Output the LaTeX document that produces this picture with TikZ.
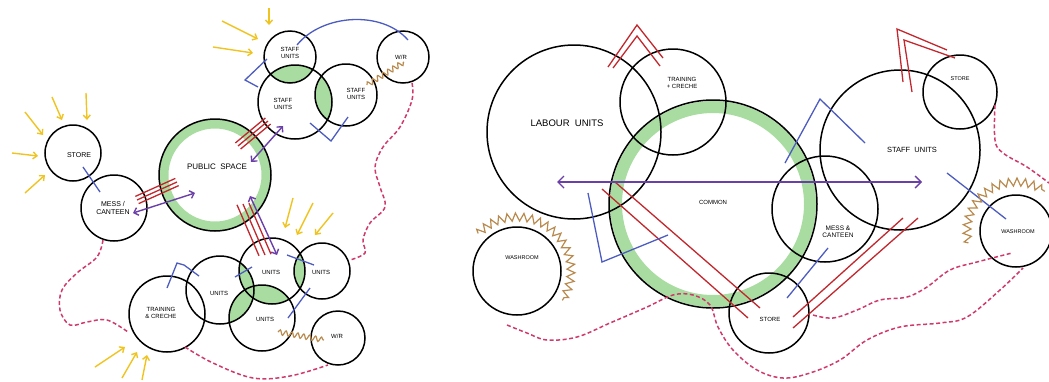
\documentclass[tikz,border=0pt]{standalone}
\usepackage{fontspec}
\setmainfont{Liberation Sans}
\usetikzlibrary{arrows.meta,decorations.pathmorphing,calc}
\definecolor{cYel}{HTML}{EFC320}
\definecolor{cRed}{HTML}{C1272D}
\definecolor{cPur}{HTML}{6B3FA8}
\definecolor{cBlu}{HTML}{4D5CC0}
\definecolor{cBrn}{HTML}{B98A4E}
\definecolor{cPnk}{HTML}{CF3A6C}
\definecolor{cGrn}{HTML}{A9DCA0}
\begin{document}
\begin{tikzpicture}[x=1pt,y=-1pt,
  bub/.style={circle,draw=black,line width=1.5pt,inner sep=0pt},
  lbl/.style={font=\fontsize{7}{7.5}\selectfont,align=center,inner sep=0pt},
  sun/.style={cYel,line width=1.4pt,-{Straight Barb[length=4pt,width=7pt]}},
  link/.style={cRed,line width=1.3pt},
  flow/.style={cPur,line width=1.4pt,{Straight Barb[length=4pt,width=8pt]}-{Straight Barb[length=4pt,width=8pt]}},
  bl/.style={cBlu,line width=1.3pt},
  walk/.style={cPnk,line width=1.5pt,dash pattern=on 4pt off 2.5pt},
  wavy/.style={cBrn,line width=1.2pt,decorate,decoration={snake,amplitude=2.5pt,segment length=6pt}},
  zig/.style={cBrn,line width=1.2pt,decorate,decoration={zigzag,amplitude=4pt,segment length=8pt}}]
\useasboundingbox (0,0) rectangle (1049,381);

% ---------- green fills (left) ----------
\begin{scope}\clip (290,57) circle[radius=26]; \fill[cGrn] (295,102) circle[radius=37];\end{scope}
\begin{scope}\clip (295,102) circle[radius=37]; \fill[cGrn] (346,95) circle[radius=31];\end{scope}
\begin{scope}\clip (220,290) circle[radius=34]; \fill[cGrn] (272,271) circle[radius=33];\end{scope}
\begin{scope}\clip (220,290) circle[radius=34]; \fill[cGrn] (262,318) circle[radius=33];\end{scope}
\begin{scope}\clip (272,271) circle[radius=33]; \fill[cGrn] (262,318) circle[radius=33];\end{scope}
\begin{scope}\clip (272,271) circle[radius=33]; \fill[cGrn] (322,271) circle[radius=28];\end{scope}
\draw[cGrn,line width=9pt] (215,175) circle[radius=51];
\draw[cGrn,line width=12pt] (713,204) circle[radius=97];

% ---------- left circles ----------
\node[bub,minimum size=56pt] (lStore) at (73,153) {};
\node[bub,minimum size=66pt] (lMess) at (114,208) {};
\node[bub,minimum size=112pt] (lPub) at (215,175) {};
\node[bub,minimum size=52pt] (lStaffA) at (290,57) {};
\node[bub,minimum size=74pt] (lStaffB) at (295,102) {};
\node[bub,minimum size=62pt] (lStaffC) at (346,95) {};
\node[bub,minimum size=52pt] (lWrA) at (403,57) {};
\node[bub,minimum size=76pt] (lTrain) at (167,314) {};
\node[bub,minimum size=68pt] (lUnA) at (220,290) {};
\node[bub,minimum size=66pt] (lUnB) at (272,271) {};
\node[bub,minimum size=56pt] (lUnC) at (322,271) {};
\node[bub,minimum size=66pt] (lUnD) at (262,318) {};
\node[bub,minimum size=54pt] (lWrB) at (338,338) {};

% ---------- right circles ----------
\node[bub,minimum size=174pt] (rLab) at (574,132) {};
\node[bub,minimum size=106pt] (rTrain) at (673,102) {};
\node[bub,minimum size=208pt] (rCom) at (713,204) {};
\node[bub,minimum size=88pt] (rWashA) at (517,271) {};
\node[bub,minimum size=80pt] (rStoreB) at (769,313) {};
\node[bub,minimum size=106pt] (rMess) at (825,209) {};
\node[bub,minimum size=160pt] (rStaff) at (900,150) {};
\node[bub,minimum size=74pt] (rStoreA) at (960,92) {};
\node[bub,minimum size=72pt] (rWashB) at (1016,231) {};

% ---------- labels ----------
\node[lbl] (tStore) at (79,155) {STORE};
\node[lbl] (tMess) at (113,208) {MESS /\\CANTEEN};
\node[lbl,font=\fontsize{8}{9}\selectfont] (tPub) at (217,167) {PUBLIC\ \ SPACE};
\node[lbl,font=\fontsize{6}{6.5}\selectfont] (tSA) at (290,53) {STAFF\\UNITS};
\node[lbl,font=\fontsize{6}{6.5}\selectfont] (tSB) at (283,104) {STAFF\\UNITS};
\node[lbl,font=\fontsize{6}{6.5}\selectfont] (tSC) at (356,94) {STAFF\\UNITS};
\node[lbl,font=\fontsize{6}{6.5}\selectfont] (tWA) at (401,57) {W/R};
\node[lbl,font=\fontsize{6}{6.5}\selectfont] (tTr) at (161,313) {TRAINING\\\& CRECHE};
\node[lbl,font=\fontsize{6}{6.5}\selectfont] (tUA) at (219,293) {UNITS};
\node[lbl,font=\fontsize{6}{6.5}\selectfont] (tUB) at (271,272) {UNITS};
\node[lbl,font=\fontsize{6}{6.5}\selectfont] (tUC) at (321,272) {UNITS};
\node[lbl,font=\fontsize{6}{6.5}\selectfont] (tUD) at (265,319) {UNITS};
\node[lbl,font=\fontsize{6}{6.5}\selectfont] (tWB) at (337,336) {W/R};

\node[lbl,font=\fontsize{9.5}{10}\selectfont] (tLab) at (567,123) {LABOUR\ \ UNITS};
\node[lbl,font=\fontsize{6}{6.5}\selectfont] (tTr2) at (682,83) {TRAINING\\+ CRECHE};
\node[lbl,font=\fontsize{6}{6.5}\selectfont] (tCom) at (713,202) {COMMON};
\node[lbl,font=\fontsize{5.5}{6}\selectfont] (tWa1) at (522,258) {WASHROOM};
\node[lbl,font=\fontsize{7.5}{8}\selectfont] (tSt) at (912,150) {STAFF\ \ UNITS};
\node[lbl,font=\fontsize{5.5}{6}\selectfont] (tSo1) at (960,79) {STORE};
\node[lbl,font=\fontsize{6.5}{7}\selectfont] (tMe2) at (838,232) {MESS \&\\CANTEEN};
\node[lbl,font=\fontsize{6}{6.5}\selectfont] (tSo2) at (770,319) {STORE};
\node[lbl,font=\fontsize{5.5}{6}\selectfont] (tWa2) at (1018,232) {WASHROOM};

% ---------- yellow arrows ----------
\draw[sun] (25,112) -- (43,135);
\draw[sun] (52,97) -- (62,120);
\draw[sun] (86,93) -- (87,120);
\draw[sun] (12,153) -- (38,156);
\draw[sun] (25,193) -- (45,175);
\draw[sun] (222,21) -- (258,39);
\draw[sun] (213,47) -- (253,53);
\draw[sun] (269,8) -- (269,25);
\draw[sun] (293,198) -- (285,228);
\draw[sun] (313,203) -- (297,235);
\draw[sun] (333,213) -- (315,235);
\draw[sun] (95,367) -- (125,347);
\draw[sun] (122,378) -- (137,352);
\draw[sun] (142,380) -- (147,355);

% ---------- red links (left) ----------
\foreach \d in {-4,0,4}{
  \draw[link] ($(137,200)+(0.42*\d,0.9*\d)$) -- ($(177,182)+(0.42*\d,0.9*\d)$);
  \draw[link] ($(238,146)+(0.65*\d,0.76*\d)$) -- ($(268,121)+(0.65*\d,0.76*\d)$);
  \draw[link] ($(243,204)+(1.5*\d,-0.2*\d)$) -- ($(265,255)+(1.5*\d,-0.2*\d)$);
}
% ---------- purple flows (left) ----------
\draw[flow] (133,213) -- (195,193);
\draw[flow] (251,162) -- (283,126);
\draw[flow] (250,196) -- (277,255);

% ---------- blue (left) ----------
\draw[bl] (83,167) -- (100,192);
\draw[bl] (267,59) -- (245,80) -- (258,87);
\draw[bl] (310,123) -- (331,141) -- (348,117);
\draw[bl] (297,45) .. controls (322,14) and (382,10) .. (408,40);
\draw[bl] (167,288) -- (177,263) -- (184,265) -- (199,276);
\draw[bl] (235,277) -- (252,267);
\draw[bl] (287,255) -- (314,265);
\draw[bl] (288,318) -- (310,288);

% ---------- brown (left) ----------
\draw[wavy] (367,85) -- (404,62);
\draw[wavy] (278,332) -- (324,340);

% ---------- pink (left) ----------
\draw[walk] plot[smooth,tension=0.6] coordinates {(412,83) (412,100) (400,127) (383,147) (375,167) (380,187) (385,207) (370,223) (363,240) (365,253) (350,260)};
\draw[walk] plot[smooth,tension=0.6] coordinates {(103,240) (97,257) (77,273) (62,290) (60,310) (70,325) (87,322) (107,320) (128,332)};
\draw[walk] plot[smooth,tension=0.6] coordinates {(185,347) (213,363) (253,378) (290,376) (328,365)};

% ---------- red (right) ----------
\draw[link] (608,67) -- (637,25) -- (663,58);
\draw[link] (613,68) -- (637,36) -- (660,66);
\draw[link] (903,82) -- (897,29) -- (947,50);
\draw[link] (912,92) -- (904,40) -- (955,58);
\draw[link] (602,189) -- (748,318);
\draw[link] (615,182) -- (760,308);
\draw[link] (793,317) -- (903,218);
\draw[link] (793,328) -- (918,218);

% ---------- purple (right) ----------
\draw[flow,{Straight Barb[length=6pt,width=12pt]}-{Straight Barb[length=6pt,width=12pt]}] (557,182) -- (922,182);

% ---------- blue (right) ----------
\draw[bl] (588,193) -- (602,262) -- (668,235);
\draw[bl] (785,163) -- (820,99) -- (865,143);
\draw[bl] (787,298) -- (828,248);
\draw[bl] (947,173) -- (1006,219);

% ---------- brown zigzags (right) ----------
\draw[zig] (517,271) ++(-136:54) arc[start angle=-136,end angle=33,radius=54];
\draw[zig] (1016,231) ++(-194:49) arc[start angle=-194,end angle=-54,radius=49];

% ---------- pink (right) ----------
\draw[walk] plot[smooth,tension=0.6] coordinates {(507,325) (527,333) (547,340) (577,337) (610,323) (647,307) (673,295) (693,295) (710,305) (718,327) (733,350) (757,370) (783,378) (810,373) (840,360) (867,340) (900,327) (940,323) (967,317) (1000,290) (1023,268)};
\draw[walk] plot[smooth,tension=0.6] coordinates {(813,315) (833,318) (857,310) (880,300) (907,297) (927,287) (950,270) (977,262) (1012,253)};
\draw[walk] plot[smooth,tension=0.6] coordinates {(995,105) (995,140) (1003,153) (1027,167) (1049,183)};
\end{tikzpicture}
\end{document}
